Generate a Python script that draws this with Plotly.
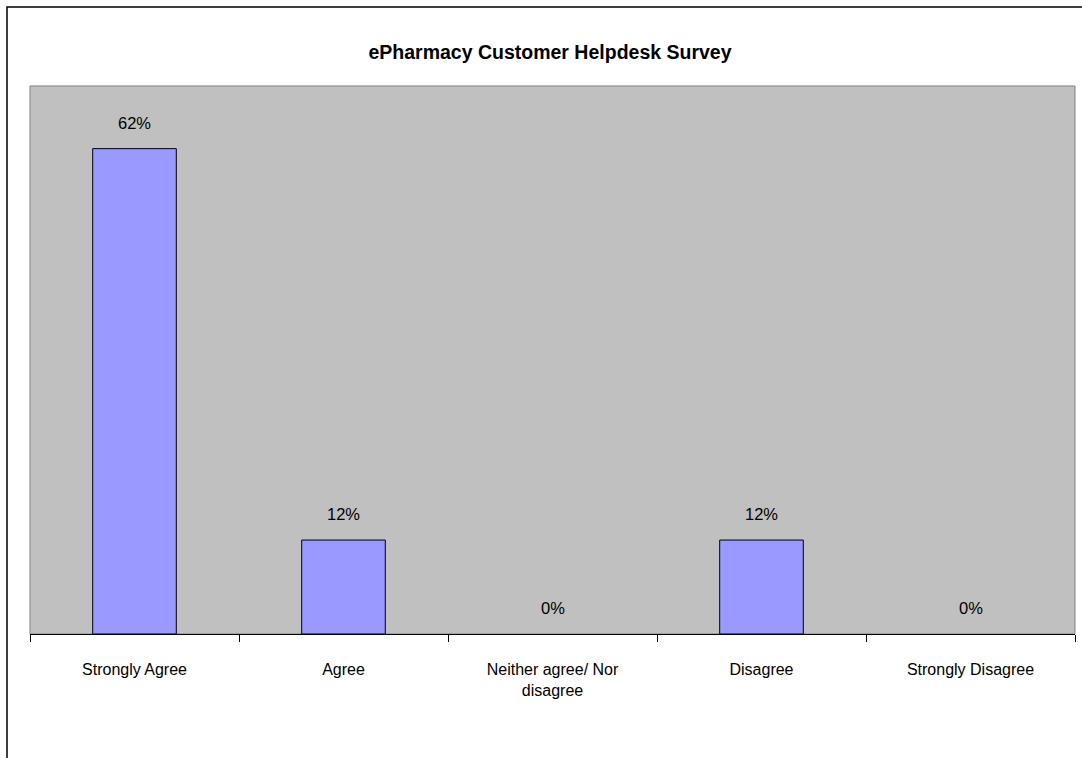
import plotly.graph_objects as go

# Survey responses (share of respondents, %)
categories = ["Strongly Agree", "Agree", "Neither agree/ Nor disagree", "Disagree", "Strongly Disagree"]
tick_labels = ["Strongly Agree", "Agree", "Neither agree/ Nor<br>disagree", "Disagree", "Strongly Disagree"]
percent = [62, 12, 0, 12, 0]

FONT = "Liberation Sans, Arial, sans-serif"

fig = go.Figure(
    go.Bar(
        x=categories,
        y=percent,
        width=0.4,
        marker=dict(
            color="#9999FF",
            line=dict(color="#000000", width=[1 if v > 0 else 0 for v in percent]),
        ),
        hoverinfo="skip",
    )
)

# value labels above each bar
for cat, val in zip(categories, percent):
    fig.add_annotation(
        x=cat, y=val, text=f"{val}%", showarrow=False,
        yanchor="middle", yshift=26,
        font=dict(family=FONT, size=16.5, color="#000000"),
    )

L, R, T, B = 30, 7, 86, 124
W, H = 1082, 758
pw, ph = W - L - R, H - T - B

def px_x(p):
    return (p - L) / pw

def px_y(p):
    return (H - B - p) / ph

fig.update_layout(
    width=W, height=H,
    margin=dict(l=L, r=R, t=T, b=B),
    paper_bgcolor="#FFFFFF",
    plot_bgcolor="#C0C0C0",
    showlegend=False,
    title=dict(
        text="<b>ePharmacy Customer Helpdesk Survey</b>",
        x=px_x(550), xanchor="center", xref="paper",
        y=1 - 52 / H, yanchor="middle",
        font=dict(family=FONT, size=19.5, color="#000000"),
    ),
    xaxis=dict(
        type="category",
        tickmode="array", tickvals=categories, ticktext=tick_labels,
        tickson="boundaries", ticks="outside", ticklen=7, tickcolor="#000000", tickwidth=1,
        showline=True, linecolor="#000000", linewidth=1,
        showgrid=False, zeroline=False,
        ticklabelstandoff=21,
        tickfont=dict(family=FONT, size=16, color="#000000"),
        range=[-0.5, 4.5],
    ),
    yaxis=dict(
        range=[0, 70], visible=False, showgrid=False, zeroline=False,
    ),
    shapes=[
        # plot area border
        dict(type="rect", xref="paper", yref="paper", x0=0, x1=1, y0=0, y1=1,
             line=dict(color="#808080", width=1), layer="below"),
        # outer chart frame
        dict(type="rect", xref="paper", yref="paper",
             x0=px_x(7), x1=px_x(1095), y0=px_y(775), y1=px_y(7),
             line=dict(color="#000000", width=1.5), layer="below"),
    ],
)

fig.write_html("out.html")
